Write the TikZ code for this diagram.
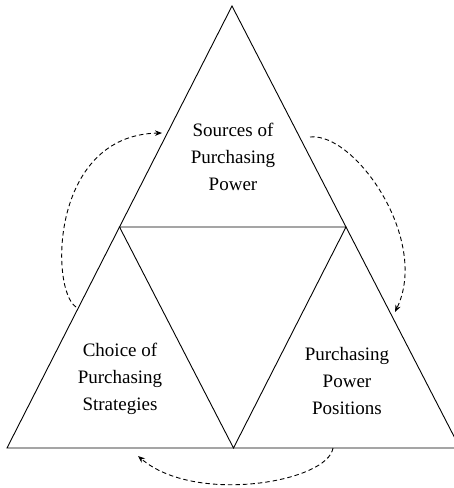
\documentclass[tikz,border=0pt]{standalone}
\usepackage{fontspec}
\setmainfont{Liberation Serif}
\usetikzlibrary{arrows.meta}
\tikzset{
  edge/.style={line width=0.9pt, line join=miter},
  cycarrow/.style={line width=0.9pt, dash pattern=on 4.5pt off 3pt, -{Stealth[length=7pt,width=5.5pt]}},
  label/.style={align=center, font=\fontsize{19}{27}\selectfont, inner sep=0pt}
}
\begin{document}
\begin{tikzpicture}[x=1pt,y=-1pt]
\useasboundingbox (0,0) rectangle (454,488);
% corners of big triangle
\coordinate (A) at (232,6);
\coordinate (L) at (7,448);
\coordinate (R) at (460,448);
% midpoints
\coordinate (ML) at (119.5,227);
\coordinate (MR) at (346,227);
\coordinate (MB) at (233.5,448);
\draw[edge] (A) -- (L) -- (R) -- cycle;
\draw[edge] (ML) -- (MR) -- (MB) -- cycle;
% labels
\node[label] (top) at (233,157) {Sources of\\Purchasing\\Power};
\node[label] (left) at (120,379) {Choice of\\Purchasing\\Strategies};
\node[label] (right) at (347,381) {Purchasing\\Power\\Positions};
% arrow endpoints
\coordinate (a1s) at (76,307);
\coordinate (a1e) at (162,133);
\coordinate (a2s) at (310,137);
\coordinate (a2e) at (395,312);
\coordinate (a3s) at (333,448);
\coordinate (a3e) at (138,456);
\draw[cycarrow] (a1s) .. controls (50,290) and (50,135) .. (a1e);
\draw[cycarrow] (a2s) .. controls (355,132) and (430,240) .. (a2e);
\draw[cycarrow] (a3s) .. controls (328,482) and (195,505) .. (a3e);
\end{tikzpicture}
\end{document}
